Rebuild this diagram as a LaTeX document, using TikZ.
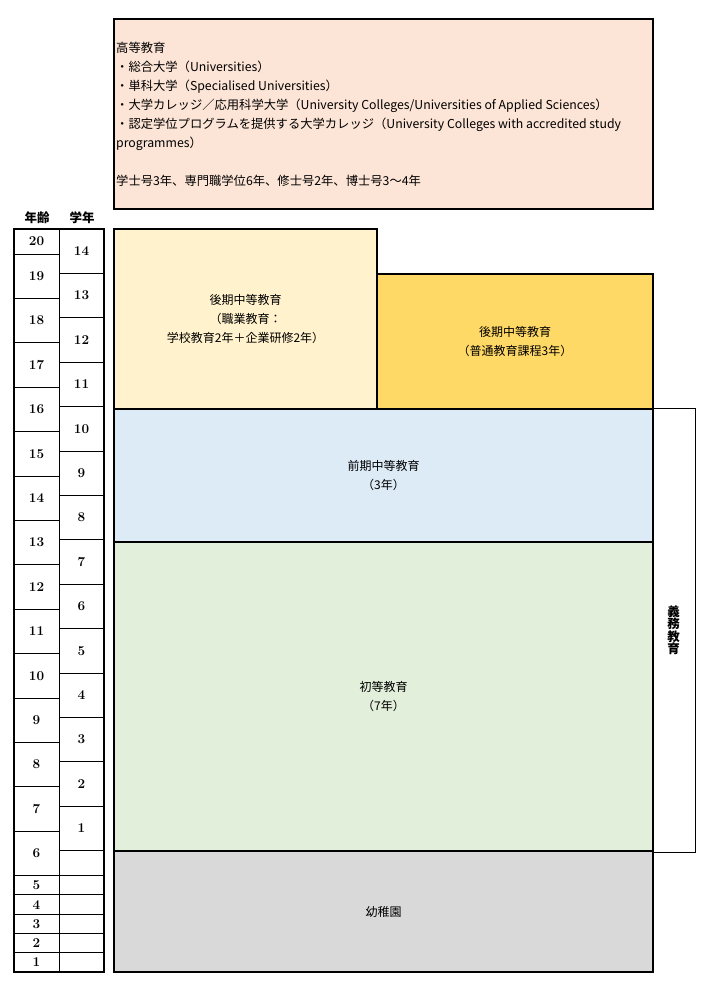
\documentclass[tikz,border=0pt]{standalone}
\usepackage{fontspec}
\newfontfamily\jp{Noto Sans CJK JP}
\usetikzlibrary{positioning}
\definecolor{peach}{HTML}{FCE4D6}
\definecolor{vocfill}{HTML}{FFF2CC}
\definecolor{genfill}{HTML}{FFD966}
\definecolor{lowfill}{HTML}{DDEBF7}
\definecolor{prifill}{HTML}{E2EFDA}
\definecolor{kinfill}{HTML}{D9D9D9}
\tikzset{
  stage/.style={draw,line width=2pt,align=center,inner sep=0pt,font=\jp\fontsize{12}{19}\selectfont},
  num/.style={font=\bfseries\fontsize{13.5}{13.5}\selectfont,inner sep=0pt},
  hd/.style={font=\jp\bfseries\fontsize{12.5}{12.5}\selectfont,inner sep=0pt,align=center}
}
\begin{document}
\begin{tikzpicture}[x=1pt,y=-1pt]
\useasboundingbox (0,0) rectangle (710,993);
\node[stage,fill=peach,minimum width=539,minimum height=190] (hi) at (383.5,114) {};
\node[right=3pt of hi.west,align=left,inner sep=0pt,font=\jp\fontsize{12.3}{19}\selectfont] (hitxt)
  {高等教育\\・総合大学（Universities）\\・単科大学（Specialised Universities）\\%
   ・大学カレッジ／応用科学大学（University Colleges/Universities of Applied Sciences）\\%
   ・認定学位プログラムを提供する大学カレッジ（University Colleges with accredited study\\%
   programmes）\\[19pt]学士号3年、専門職学位6年、修士号2年、博士号3～4年};
\node[stage,fill=vocfill,minimum width=263,minimum height=180] (voc) at (245.5,319)
  {後期中等教育\\（職業教育：\\学校教育2年＋企業研修2年）};
\node[stage,fill=genfill,minimum width=276,minimum height=135] (gen) at (515,341.5)
  {後期中等教育\\（普通教育課程3年）};
\node[stage,fill=lowfill,minimum width=539,minimum height=133] (low) at (383.5,475.5)
  {前期中等教育\\（3年）};
\node[stage,fill=prifill,minimum width=539,minimum height=309] (pri) at (383.5,696.5)
  {初等教育\\（7年）};
\node[stage,fill=kinfill,minimum width=539,minimum height=121] (kin) at (383.5,911.5)
  {幼稚園};
\draw[line width=0.8pt] (low.north east) -- ++(41,0) |- (pri.south east);
\node[hd] (comp) at (673.5,630) {義\\務\\教\\育};

\node[hd] (age) at (37,218) {年齢};
\node[hd] (grade) at (82,218) {学年};
\draw[line width=1pt] (59,229) -- (59,972);
\foreach \i in {0,...,13} \draw[line width=1pt] (14,{254+44.4*\i}) -- (59,{254+44.4*\i});
\foreach \i in {1,...,14} \draw[line width=1pt] (59,{229+44.4*\i}) -- (104,{229+44.4*\i});
\foreach \i in {0,...,4} \draw[line width=1pt] (14,{875.6+19.3*\i}) -- (104,{875.6+19.3*\i});
\draw[line width=2pt] (14,229) rectangle (104,972);
\node[num] (a20) at (36.5,241.5) {20};
\foreach \n in {19,...,6} \node[num] (a\n) at (36.5,{254+44.4*(19-\n)+22.2}) {\n};
\foreach \n in {5,...,1} \node[num] (a\n) at (36.5,{875.6+19.3*(5-\n)+9.65}) {\n};
\foreach \n in {14,...,1} \node[num] (g\n) at (81.5,{229+44.4*(14-\n)+22.2}) {\n};
\end{tikzpicture}
\end{document}
